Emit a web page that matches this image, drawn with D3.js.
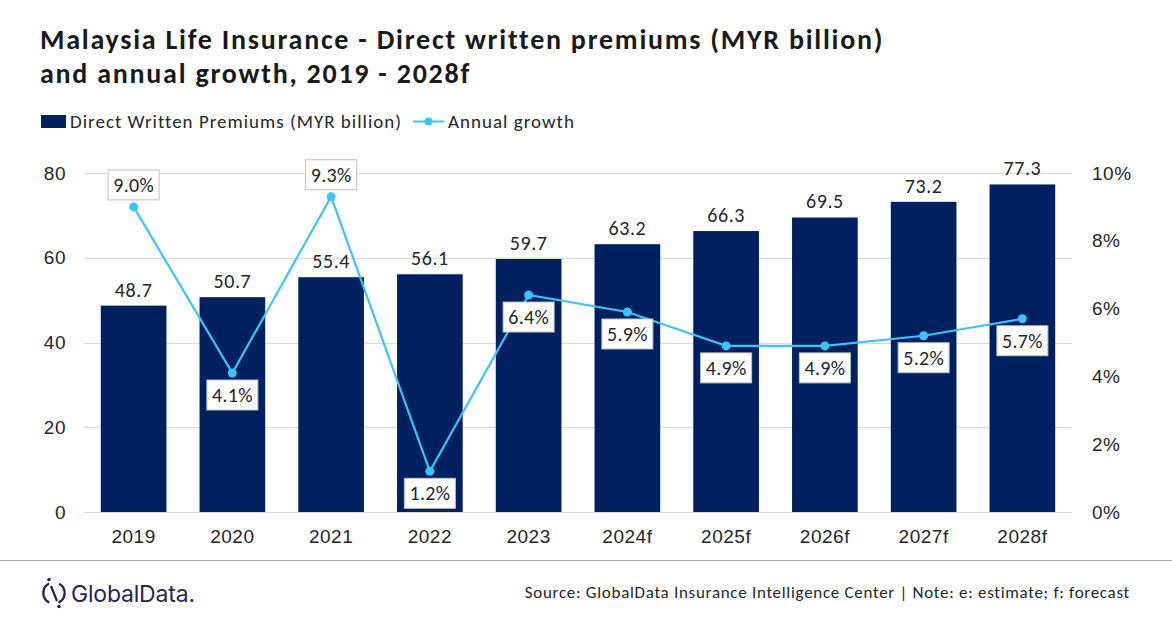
<html>
<head>
<meta charset="UTF-8">
<script src="https://cdn.jsdelivr.net/npm/d3@7"></script>
<style>
  body { margin: 0; background: #fff; }
  svg { font-family: Calibri, Carlito, Lato, sans-serif; }
  .grid line { stroke: #d9d9d9; shape-rendering: crispEdges; }
  .axis text { fill: #262626; }
</style>
</head>
<body>
<script>
var years = ['2019', '2020', '2021', '2022', '2023', '2024f', '2025f', '2026f', '2027f', '2028f'];
var premiums = [48.7, 50.7, 55.4, 56.1, 59.7, 63.2, 66.3, 69.5, 73.2, 77.3];
var growth = [9.0, 4.1, 9.3, 1.2, 6.4, 5.9, 4.9, 4.9, 5.2, 5.7];
// which growth labels sit above the point
var labelAbove = [true, false, true, false, false, false, false, false, false, false];
var leftTicks = [0, 20, 40, 60, 80];
var rightTicks = [0, 2, 4, 6, 8, 10];

var W = 1172, H = 628;
var svg = d3.select('body').append('svg').attr('width', W).attr('height', H);

var x = d3.scaleBand().domain(years).range([84, 1072]).paddingInner(0.335).paddingOuter(0.17);
var yL = d3.scaleLinear().domain([0, 80]).range([512, 173]);
var yR = d3.scaleLinear().domain([0, 10]).range([512, 173]);

// title
var title = svg.append('g').attr('font-weight', 'bold').attr('font-size', 28)
  .attr('letter-spacing', 1.75).attr('fill', '#1a1a1a');
title.append('text').attr('x', 40).attr('y', 49).text('Malaysia Life Insurance - Direct written premiums (MYR billion)');
title.append('text').attr('x', 40).attr('y', 83).text('and annual growth, 2019 - 2028f');

// legend
var lg = svg.append('g').attr('font-size', 19).attr('letter-spacing', 1).attr('fill', '#262626');
lg.append('rect').attr('x', 41).attr('y', 115).attr('width', 25).attr('height', 13).attr('fill', '#002060');
lg.append('text').attr('x', 70).attr('y', 128).text('Direct Written Premiums (MYR billion)');
lg.append('line').attr('x1', 413).attr('x2', 444).attr('y1', 121.5).attr('y2', 121.5)
  .attr('stroke', '#3fc3f7').attr('stroke-width', 2);
lg.append('circle').attr('cx', 428.5).attr('cy', 121.5).attr('r', 4).attr('fill', '#3fc3f7');
lg.append('text').attr('x', 448).attr('y', 128).text('Annual growth');

// gridlines
svg.append('g').attr('class', 'grid')
  .selectAll('line').data(leftTicks).join('line')
  .attr('x1', 84).attr('x2', 1072)
  .attr('y1', function(d) { return Math.round(yL(d)) + 0.5; })
  .attr('y2', function(d) { return Math.round(yL(d)) + 0.5; });

// axes
var axL = svg.append('g').attr('class', 'axis').attr('transform', 'translate(84,0)')
  .call(d3.axisLeft(yL).tickValues(leftTicks).tickSize(0).tickPadding(18));
var axR = svg.append('g').attr('class', 'axis').attr('transform', 'translate(1072,0)')
  .call(d3.axisRight(yR).tickValues(rightTicks).tickSize(0).tickPadding(20)
    .tickFormat(function(d) { return d + '%'; }));
var axX = svg.append('g').attr('class', 'axis').attr('transform', 'translate(0,512)')
  .call(d3.axisBottom(x).tickSize(0).tickPadding(18));
[axL, axR, axX].forEach(function(a) {
  a.select('.domain').remove();
  a.selectAll('text').attr('font-family', null).attr('font-size', 19).attr('letter-spacing', 0.5);
});
svg.append('line').attr('x1', 84).attr('x2', 1072).attr('y1', 512.5).attr('y2', 512.5)
  .attr('stroke', '#d9d9d9');

// bars
svg.append('g').selectAll('rect').data(premiums).join('rect')
  .attr('x', function(d, i) { return x(years[i]); })
  .attr('width', x.bandwidth())
  .attr('y', function(d) { return yL(d); })
  .attr('height', function(d) { return yL(0) - yL(d); })
  .attr('fill', '#002060');

svg.append('g').attr('font-size', 20).attr('letter-spacing', 0.6).attr('fill', '#262626').attr('text-anchor', 'middle')
  .selectAll('text').data(premiums).join('text')
  .attr('x', function(d, i) { return x(years[i]) + x.bandwidth() / 2; })
  .attr('y', function(d) { return yL(d) - 9; })
  .text(function(d) { return d.toFixed(1); });

// growth line
var cx = function(d, i) { return x(years[i]) + x.bandwidth() / 2; };
var line = d3.line().x(cx).y(function(d) { return yR(d); });
svg.append('path').datum(growth).attr('d', line)
  .attr('fill', 'none').attr('stroke', '#3fc3f7').attr('stroke-width', 2.2);
svg.append('g').selectAll('circle').data(growth).join('circle')
  .attr('cx', cx).attr('cy', function(d) { return yR(d); })
  .attr('r', 4.5).attr('fill', '#3fc3f7');

// growth label boxes
var bw = 51, bh = 30;
var lab = svg.append('g').selectAll('g').data(growth).join('g')
  .attr('transform', function(d, i) {
    var top = labelAbove[i] ? yR(d) - 7 - bh : yR(d) + 7;
    return 'translate(' + (cx(d, i) - bw / 2) + ',' + top + ')';
  });
lab.append('rect').attr('width', bw).attr('height', bh)
  .attr('fill', '#fff').attr('stroke', '#bfbfbf').attr('stroke-width', 1);
lab.append('text').attr('x', bw / 2).attr('y', 22).attr('text-anchor', 'middle')
  .attr('font-size', 20).attr('letter-spacing', 0.3).attr('fill', '#262626')
  .text(function(d) { return d.toFixed(1) + '%'; });

// footer
svg.append('line').attr('x1', 0).attr('x2', W).attr('y1', 560.5).attr('y2', 560.5)
  .attr('stroke', '#a6a6a6');
svg.append('text').attr('x', 1130).attr('y', 598).attr('text-anchor', 'end')
  .attr('font-size', 17).attr('letter-spacing', 0.7).attr('fill', '#262626')
  .text('Source: GlobalData Insurance Intelligence Center | Note: e: estimate; f: forecast');

// logo
var logo = svg.append('g').attr('transform', 'translate(54,593)');
logo.append('path').attr('d', d3.arc()({innerRadius: 9.5, outerRadius: 11.8, startAngle: 0.5, endAngle: 2.7}))
  .attr('fill', '#2e1f52');
logo.append('path').attr('d', d3.arc()({innerRadius: 9.5, outerRadius: 11.8, startAngle: 3.6, endAngle: 5.8}))
  .attr('fill', '#2e1f52');
logo.append('line').attr('x1', -3).attr('y1', -7).attr('x2', 3).attr('y2', 8)
  .attr('stroke', '#2e1f52').attr('stroke-width', 2.2);
logo.append('circle').attr('cx', -5).attr('cy', -13.5).attr('r', 1.8).attr('fill', '#2e1f52');
logo.append('circle').attr('cx', 5).attr('cy', 13.5).attr('r', 1.8).attr('fill', '#2e1f52');
svg.append('text').attr('x', 71).attr('y', 602).attr('font-family', 'Inter, sans-serif')
  .attr('font-size', 23).attr('fill', '#2e1f52').attr('letter-spacing', -0.2).text('GlobalData.');
</script>
</body>
</html>
